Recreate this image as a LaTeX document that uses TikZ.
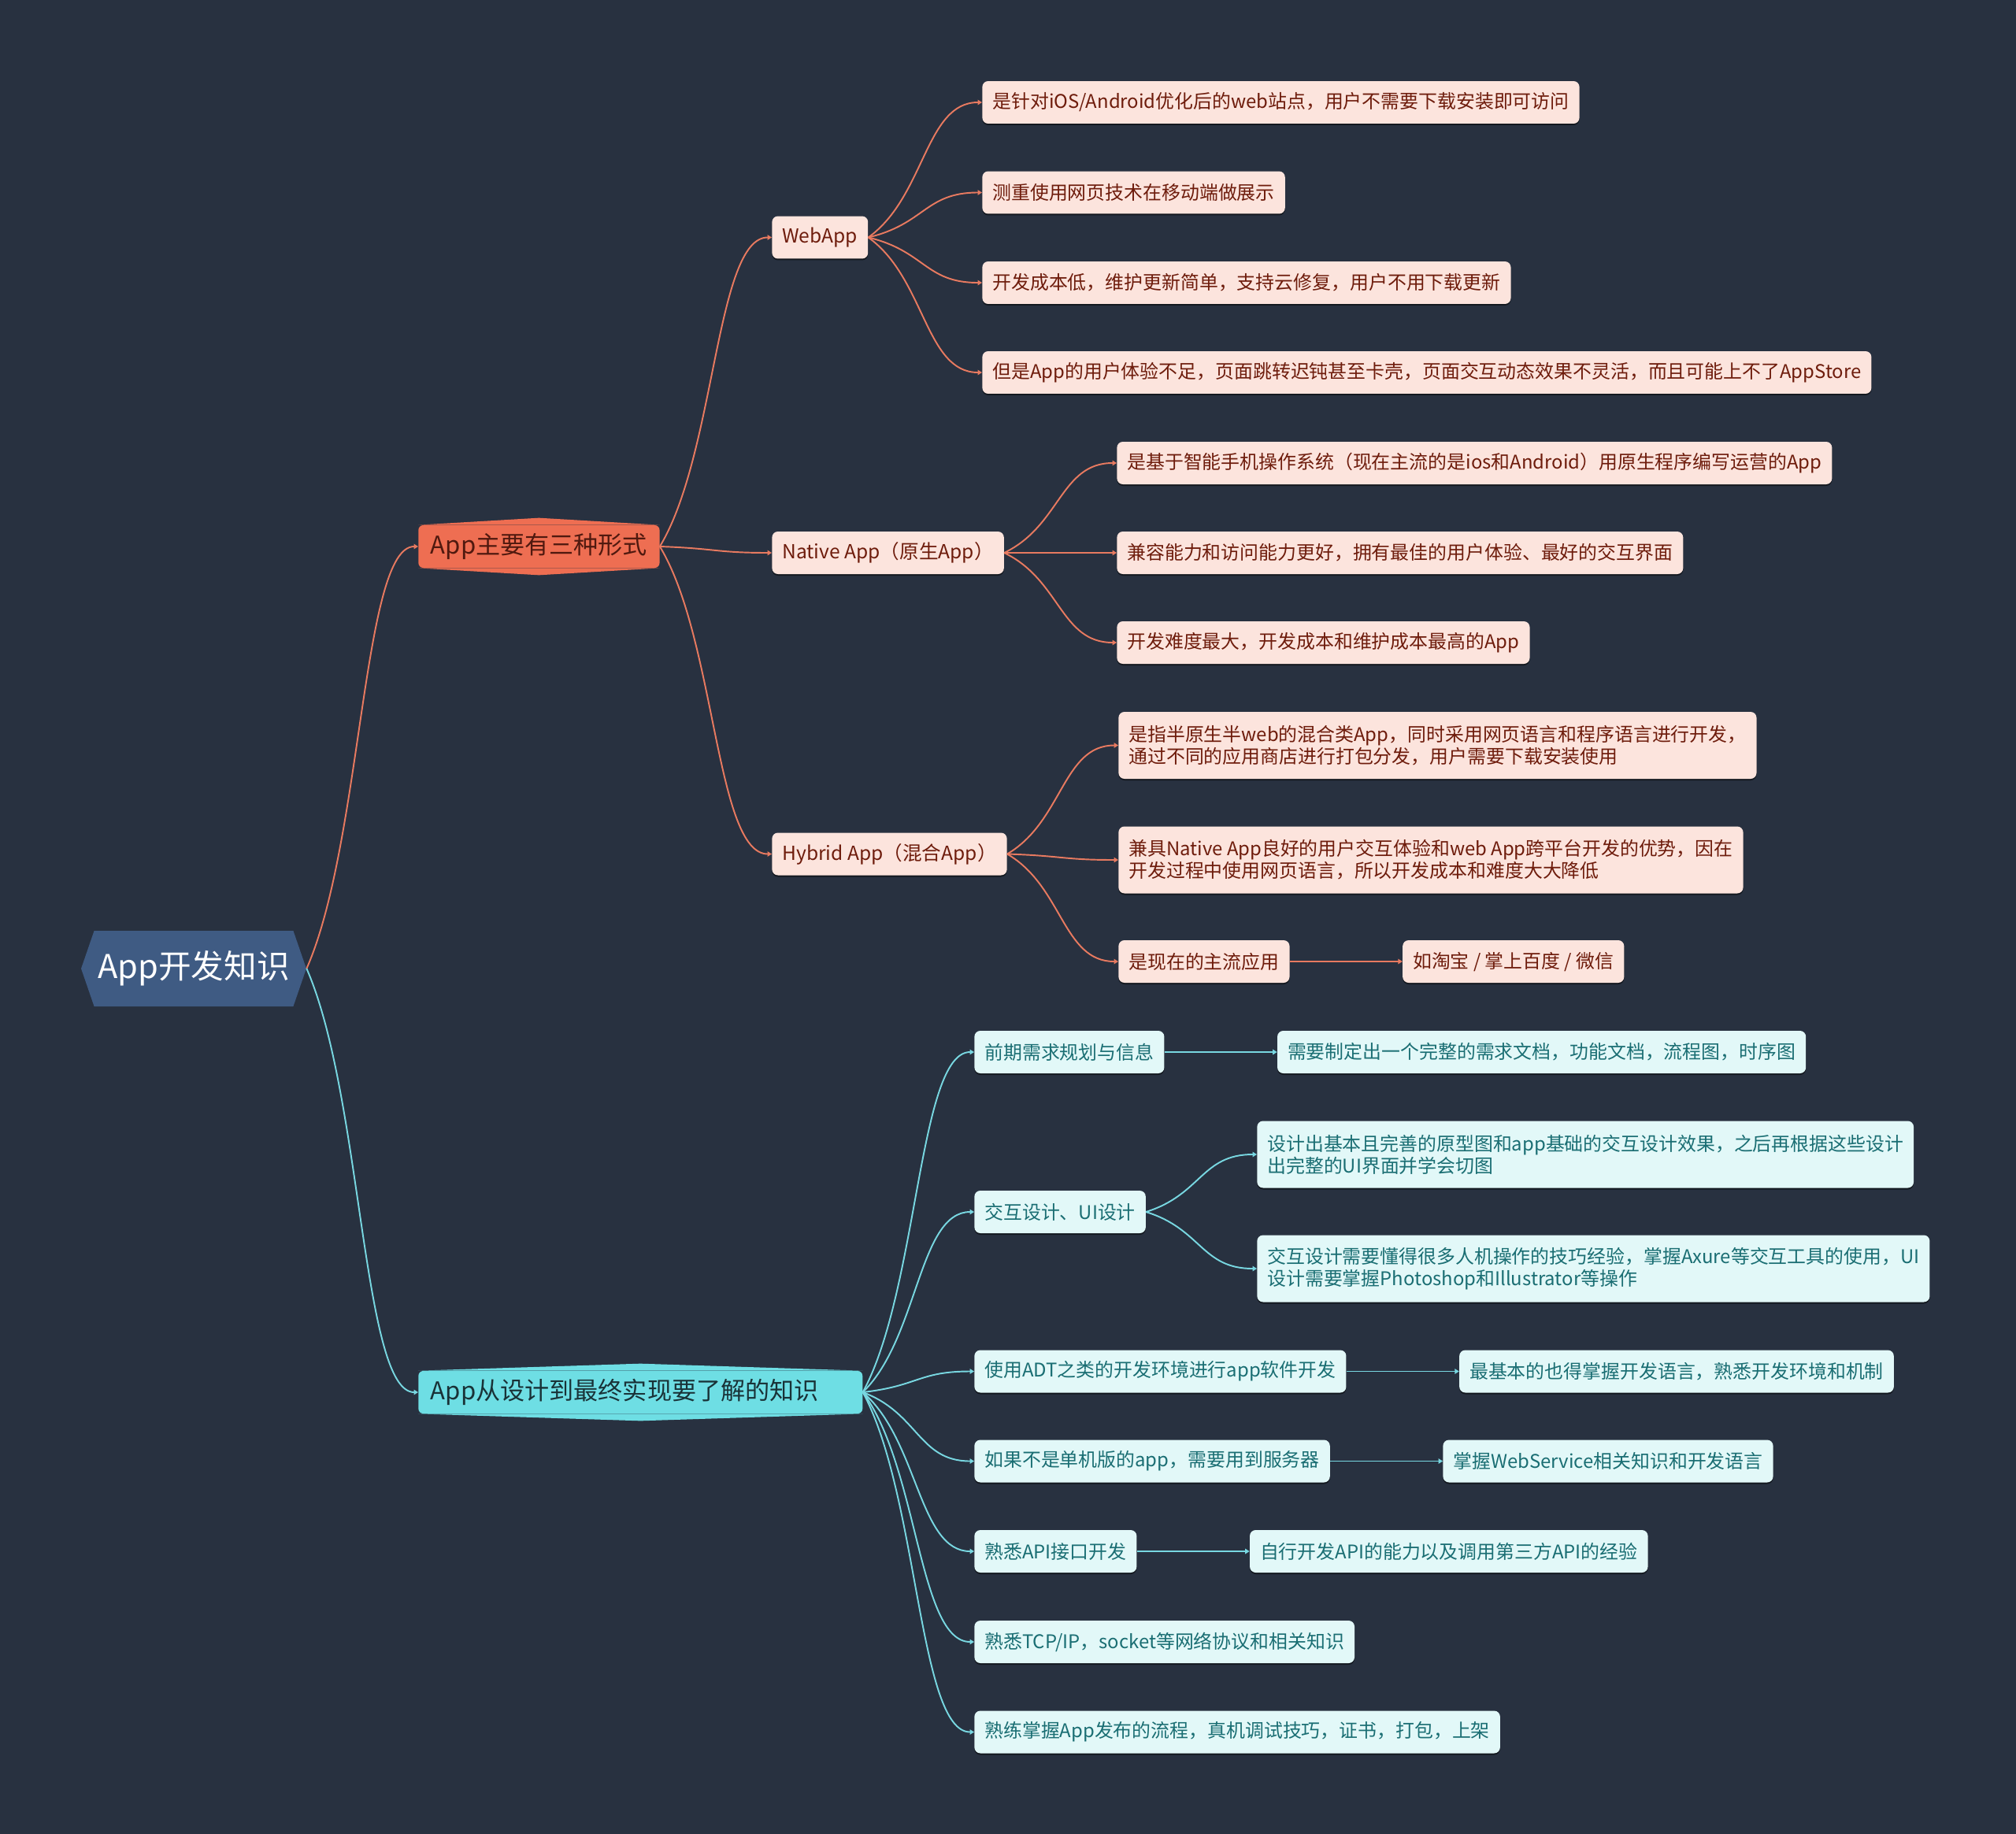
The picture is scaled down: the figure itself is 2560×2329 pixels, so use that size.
\documentclass[tikz,border=0pt]{standalone}
\usepackage{fontspec}
\setmainfont{Noto Sans CJK SC}
\usetikzlibrary{arrows.meta,positioning,shapes.symbols,shadows,calc}
\definecolor{bgnavy}{RGB}{40,49,64}
\definecolor{rootblue}{RGB}{63,91,131}
\definecolor{ormain}{RGB}{238,110,82}
\definecolor{ordark}{RGB}{80,25,15}
\definecolor{orlight}{RGB}{252,228,221}
\definecolor{ortext}{RGB}{110,28,12}
\definecolor{orline}{RGB}{232,122,96}
\definecolor{cymain}{RGB}{110,222,228}
\definecolor{cydark}{RGB}{25,50,55}
\definecolor{cylight}{RGB}{226,248,248}
\definecolor{cytext}{RGB}{26,110,115}
\definecolor{cyline}{RGB}{120,215,225}

\begin{document}
\begin{tikzpicture}[x=0.02cm, y=-0.02cm,
    root/.style={signal, signal to=west and east, signal pointer angle=142, fill=rootblue, text=white,
      minimum width=5.72cm, minimum height=1.92cm, inner xsep=0pt, font=\fontsize{23.7}{26}\selectfont},
    branch/.style={fill=#1, rounded corners=1.2mm, minimum height=1.08cm, inner xsep=0.31cm, inner ysep=0pt,
      anchor=west, font=\fontsize{17.7}{20}\selectfont,
      append after command={\pgfextra{\fill[#1] (\tikzlastnode.north west) -- ([yshift=0.18cm]\tikzlastnode.north)
        -- (\tikzlastnode.north east) -- cycle (\tikzlastnode.south west) -- ([yshift=-0.18cm]\tikzlastnode.south)
        -- (\tikzlastnode.south east) -- cycle;}}},
    leaf/.style={rounded corners=1.5mm, minimum height=1.08cm, inner xsep=0.26cm, inner ysep=0pt, anchor=west,
      align=left, font=\fontsize{13.6}{15.9}\selectfont,
      drop shadow={shadow xshift=0pt, shadow yshift=-0.04cm, opacity=0.5, fill=black}},
    oleaf/.style={leaf, fill=orlight, text=ortext},
    cleaf/.style={leaf, fill=cylight, text=cytext},
    twoline/.style={minimum height=1.7cm},
    mid/.style={font=\fontsize{14}{16}\selectfont},
    link/.style={line width=1.1pt, -{Triangle[length=1.1mm, width=1.3mm]},
      to path={let \p1=(\tikztostart), \p2=(\tikztotarget) in
        .. controls ({0.5*\x1+0.5*\x2},{0.7*\y1+0.3*\y2}) and ({0.5*\x1+0.5*\x2},\y2) .. (\tikztotarget) \tikztonodes}},
    olink/.style={link, draw=orline},
    clink/.style={link, draw=cyline}
  ]
  \fill[bgnavy] (0,0) rectangle (2560,2329);
  \useasboundingbox (0,0) rectangle (2560,2329);

  \node[root] (root) at (246,1230) {App开发知识};
  \node[branch=ormain, text=ordark] (forms) at (531,694) {App主要有三种形式};
  \node[branch=cymain, text=cydark, text width=10.66cm, align=left] (learn) at (531,1768) {App从设计到最终实现要了解的知识};

  % three forms
  \node[oleaf, mid] (webapp) at (980,301.5) {WebApp};
  \node[oleaf, mid] (native) at (980,702) {Native App（原生App）};
  \node[oleaf, mid] (hybrid) at (980,1084.5) {Hybrid App（混合App）};

  \node[oleaf] (web1) at (1247,130) {是针对iOS/Android优化后的web站点，用户不需要下载安装即可访问};
  \node[oleaf] (web2) at (1247,244.5) {测重使用网页技术在移动端做展示};
  \node[oleaf] (web3) at (1247,359) {开发成本低，维护更新简单，支持云修复，用户不用下载更新};
  \node[oleaf] (web4) at (1247,473) {但是App的用户体验不足，页面跳转迟钝甚至卡壳，页面交互动态效果不灵活，而且可能上不了AppStore};

  \node[oleaf] (nat1) at (1418,588) {是基于智能手机操作系统（现在主流的是ios和Android）用原生程序编写运营的App};
  \node[oleaf] (nat2) at (1418,702) {兼容能力和访问能力更好，拥有最佳的用户体验、最好的交互界面};
  \node[oleaf] (nat3) at (1418,816) {开发难度最大，开发成本和维护成本最高的App};

  \node[oleaf, twoline] (hyb1) at (1420,946.5) {是指半原生半web的混合类App，同时采用网页语言和程序语言进行开发，\\通过不同的应用商店进行打包分发，用户需要下载安装使用};
  \node[oleaf, twoline] (hyb2) at (1420,1092) {兼具Native App良好的用户交互体验和web App跨平台开发的优势，因在\\开发过程中使用网页语言，所以开发成本和难度大大降低};
  \node[oleaf] (hyb3) at (1420,1221) {是现在的主流应用};
  \node[oleaf, right=2.86cm of hyb3] (hybex) {如淘宝 / 掌上百度 / 微信};

  % what to learn
  \node[cleaf] (plan) at (1237,1336) {前期需求规划与信息};
  \node[cleaf, right=2.86cm of plan] (planex) {需要制定出一个完整的需求文档，功能文档，流程图，时序图};
  \node[cleaf] (ui) at (1237,1539) {交互设计、UI设计};
  \node[cleaf, twoline] (ui1) at (1596,1466) {设计出基本且完善的原型图和app基础的交互设计效果，之后再根据这些设计\\出完整的UI界面并学会切图};
  \node[cleaf, twoline] (ui2) at (1596,1611) {交互设计需要懂得很多人机操作的技巧经验，掌握Axure等交互工具的使用，UI\\设计需要掌握Photoshop和Illustrator等操作};
  \node[cleaf] (adt) at (1237,1741.5) {使用ADT之类的开发环境进行app软件开发};
  \node[cleaf, right=2.86cm of adt] (adtex) {最基本的也得掌握开发语言，熟悉开发环境和机制};
  \node[cleaf] (server) at (1237,1855.5) {如果不是单机版的app，需要用到服务器};
  \node[cleaf, right=2.86cm of server] (serverex) {掌握WebService相关知识和开发语言};
  \node[cleaf] (api) at (1237,1970) {熟悉API接口开发};
  \node[cleaf, right=2.86cm of api] (apiex) {自行开发API的能力以及调用第三方API的经验};
  \node[cleaf] (tcp) at (1237,2085) {熟悉TCP/IP，socket等网络协议和相关知识};
  \node[cleaf] (publish) at (1237,2199.5) {熟练掌握App发布的流程，真机调试技巧，证书，打包，上架};

  % connectors
  \draw[olink] (root.east) to (forms.west);
  \draw[clink] (root.east) to (learn.west);
  \foreach \kid in {webapp,native,hybrid}
    \draw[olink] (forms.east) to (\kid.west);
  \foreach \kid in {web1,web2,web3,web4}
    \draw[olink] (webapp.east) to (\kid.west);
  \foreach \kid in {nat1,nat2,nat3}
    \draw[olink] (native.east) to (\kid.west);
  \foreach \kid in {hyb1,hyb2,hyb3}
    \draw[olink] (hybrid.east) to (\kid.west);
  \draw[olink] (hyb3.east) -- (hybex.west);

  \foreach \kid in {plan,ui,adt,server,api,tcp,publish}
    \draw[clink] (learn.east) to (\kid.west);
  \foreach \kid in {ui1,ui2}
    \draw[clink] (ui.east) to (\kid.west);
  \draw[clink] (plan.east) -- (planex.west);
  \draw[clink] (adt.east) -- (adtex.west);
  \draw[clink] (server.east) -- (serverex.west);
  \draw[clink] (api.east) -- (apiex.west);
\end{tikzpicture}
\end{document}
